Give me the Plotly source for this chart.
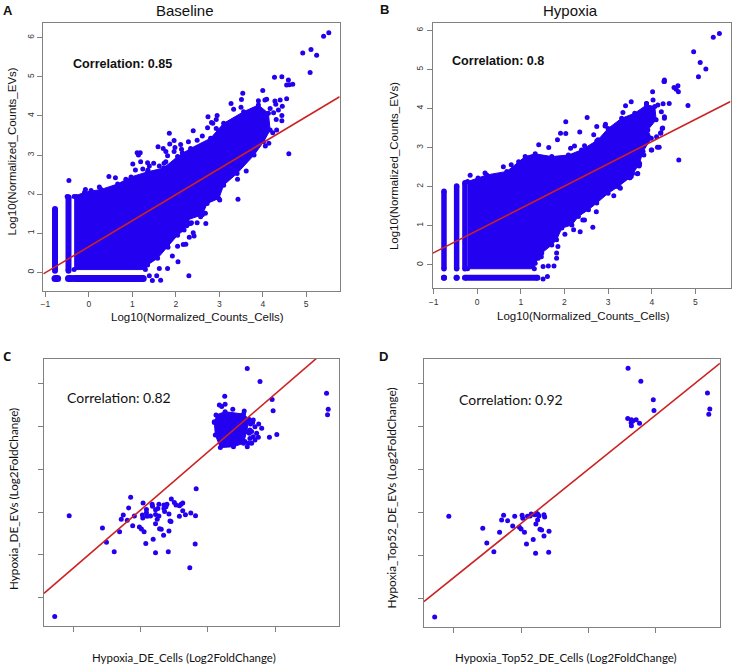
import plotly.graph_objects as go

W, H = 736, 665
DX = -2.5  # page sits a little to the right in the browser
BLUE = "#2400F0"
RED = "#CC2222"
GRAY = "#808080"

# panel A - Baseline
a_cloud_x = [-0.34, -0.10, 0.28, 0.66, 0.97, 1.35, 1.72, 2.04, 2.34, 2.80, 3.10, 3.56, 3.90, 4.13, 4.17, 4.02, 3.80, 3.41, 3.10, 2.99, 2.72, 2.61, 2.26, 2.19, 2.04, 1.81, 1.58, 1.35, 1.30, -0.34]
a_cloud_y = [1.94, 2.05, 2.12, 2.26, 2.44, 2.57, 2.67, 2.96, 3.17, 3.43, 3.81, 4.11, 4.28, 4.07, 3.64, 3.34, 3.00, 2.53, 2.23, 1.89, 1.76, 1.47, 1.34, 1.08, 0.95, 0.66, 0.36, 0.19, 0.07, 0.07]
a_x = [5.52, 5.40, 5.11, 4.92, 5.24, 5.09, 4.27, 4.44, 4.59, 4.55, 4.69, 4.61, 3.54, 4.00, 3.51, 3.27, 4.55, 4.45, 3.50, 4.09, 4.05, 4.28, 4.40, 4.44, 4.44, 4.32, 4.23, 4.14, 4.60, 3.43, 3.62, 3.42, 2.74, 2.95, 2.93, 2.82, 2.40, 1.85, 2.61, 2.49, 1.96, 1.86, 1.59, 1.71, 2.11, 1.11, 1.18, 1.14, 1.19, 1.01, 1.35, 1.49, 1.77, 1.81, 1.96, 1.07, 0.46, 0.61, -0.46, 0.24, 0.85, 1.81, 2.05, 1.92, 2.30, 2.31, 2.42, 2.40, 2.23, 2.04, 1.82, 2.68, 2.57, 2.69, 3.01, 2.30, 2.36, 1.62, 1.65, 1.46, 1.56, 1.39, -0.50, -0.29, -0.08, 0.05,
       3.33, 3.90, 4.30, 4.17, 4.36, 4.25, 4.31, 4.06, 2.85, 2.73, 2.93, 2.29, 1.98, 2.13, 2.15, 1.77, 1.73, 1.24, 1.39, 1.62, 1.36, 2.49, 2.34, 2.25, 2.17]
a_y = [6.13, 6.04, 5.70, 5.61, 5.55, 5.11, 4.99, 5.00, 4.92, 4.79, 4.81, 4.80, 4.58, 4.65, 4.42, 4.32, 4.44, 4.25, 4.22, 4.43, 4.41, 4.38, 4.41, 4.01, 3.88, 3.64, 3.57, 3.30, 3.03, 1.87, 2.59, 2.38, 3.98, 4.01, 3.91, 3.83, 3.62, 3.56, 3.49, 3.38, 3.37, 3.28, 3.21, 3.17, 3.27, 3.06, 3.06, 3.00, 2.83, 2.77, 2.80, 2.79, 3.09, 2.98, 3.09, 2.62, 2.45, 2.42, 2.35, 2.18, 2.38, 0.10, 0.27, 0.42, -0.09, 0.90, 0.93, 1.01, 0.72, 0.67, 0.64, 1.51, 1.42, 1.25, 1.85, 1.24, 1.27, 0.10, -0.20, -0.21, -0.09, -0.09, 1.94, 1.94, 2.12, 2.09,
       4.17, 4.39, 4.30, 4.19, 4.15, 4.08, 3.91, 3.23, 3.81, 3.70, 3.68, 3.34, 3.19, 3.15, 3.06, 2.83, 2.79, 2.64, 2.72, 2.72, 2.62, 1.27, 1.25, 1.19, 0.71]
a_strip_x = [-0.78, -0.47]
a_strip_top = [1.62, 1.92]
a_strip_bottom = [0.04, 0.04]
a_row_x = [-0.78, -0.47, -0.34]
a_row_end = [-0.72, -0.41, 1.25]
a_row_y = [-0.16, -0.16, -0.16]
a_line_x = [-1.05, 5.77]
a_line_y = [-0.04, 4.49]

# panel B - Hypoxia
b_cloud_x = [-0.22, 0.22, 0.68, 0.95, 1.10, 1.33, 1.71, 2.09, 2.39, 2.77, 3.00, 3.31, 3.61, 3.88, 4.07, 4.10, 3.91, 3.99, 3.80, 3.72, 3.53, 3.23, 3.00, 2.74, 2.55, 2.32, 2.17, 1.94, 1.82, 1.71, 1.48, 1.33, 1.31, -0.22]
b_cloud_y = [2.13, 2.30, 2.39, 2.64, 2.77, 2.84, 2.77, 2.81, 2.94, 3.20, 3.49, 3.75, 3.88, 4.09, 4.05, 3.71, 3.45, 3.24, 2.90, 2.60, 2.26, 2.00, 1.83, 1.58, 1.41, 1.24, 1.02, 0.94, 0.64, 0.51, 0.30, 0.04, -0.10, -0.10]
b_x = [5.55, 5.41, 4.96, 5.11, 5.24, 5.07, 4.29, 4.29, 4.51, 4.60, 4.56, 4.61, 4.02, 3.53, 3.40, 4.40, 4.83, 3.88, 2.52, 2.03, 2.74, 2.35, 1.91, 2.03, 1.84, 1.41, 1.64, 2.23, 2.46, 2.67, 2.93, 0.60, 0.78, 0.18, -0.16, 0.02, 4.29, 4.25, 4.21, 4.11, 4.13, 4.17, 4.00, 4.62, 3.72, 3.68, 3.56, 3.49, 3.28, 3.13, 2.73, 2.65, 2.36, 2.42, 2.46, 2.21, 2.01, 1.85, 1.82, 1.82, 1.76, 1.63, 1.51, 1.61, 1.51, 1.40, 1.47,
       3.34, 2.94, 3.88, 4.03, 4.14, 4.26, 4.22, 4.29, 4.24, 4.20, 3.99, 3.82, 3.71, 3.67, 3.50, 3.27, 2.14, 2.74, 4.28]
b_y = [5.92, 5.82, 5.45, 5.18, 5.01, 4.81, 4.73, 4.69, 4.54, 4.58, 4.49, 4.43, 4.43, 4.17, 4.07, 4.13, 4.08, 4.13, 3.77, 3.66, 3.54, 3.40, 3.37, 3.36, 3.20, 3.07, 3.00, 3.04, 3.05, 3.33, 3.55, 2.51, 2.56, 2.35, 2.29, 2.22, 3.79, 3.50, 3.38, 3.28, 3.01, 3.01, 2.94, 2.68, 2.56, 2.34, 2.34, 2.23, 1.96, 1.77, 1.36, 0.96, 0.85, 1.15, 1.15, 0.90, 0.78, 0.47, 0.30, 0.17, -0.03, -0.03, -0.04, -0.30, -0.36, 0.17, 0.21,
       3.90, 3.60, 4.13, 4.22, 4.09, 4.12, 3.92, 3.75, 3.49, 3.37, 2.94, 2.81, 2.53, 2.33, 2.23, 1.98, 2.98, 3.17, 4.69]
b_strip_x = [-0.76, -0.47, -0.28]
b_strip_top = [1.88, 2.02, 2.10]
b_strip_bottom = [-0.10, -0.10, -0.10]
b_row_x = [-0.76, -0.47, -0.28]
b_row_end = [-0.76, -0.47, 1.38]
b_row_y = [-0.33, -0.33, -0.33]
b_line_x = [-1.015, 5.805]
b_line_y = [0.30, 4.18]

# panel C - all DE genes
c_cloud_x = [0.24, 0.51, 1.06, 1.23, 1.15, 1.06, 0.76, 0.37, 0.22, 0.19]
c_cloud_y = [2.55, 2.70, 2.59, 2.34, 1.77, 1.22, 1.06, 1.02, 1.61, 2.23]
c_x = [1.17, 1.55, 0.50, 1.91, 3.53, 3.58, 3.56, 1.94, 0.34, 0.51, 0.41, 0.74, 1.08, 2.05, 1.83, 1.35, 1.51, 1.60, 1.40, 1.25, 1.45, 1.35, 1.50, 1.25, 1.40, 1.30, 1.17, 1.10, 1.23, 1.30, 1.20, 1.33, 1.27, 0.19,
       -0.35, -2.30, -1.09, -1.93, -1.66, -1.65, -1.46, -1.31, -1.22, -1.25, -1.00, -0.95, -0.85, -0.75, -0.80, -0.75, -2.36, -1.83, -1.56, -1.49, -1.31, -1.29, -1.16, -0.67, -0.51, -0.85, -0.37, -4.13, -2.52, -2.19, -1.95, -1.83, -1.94, -1.81, -1.71, -1.56, -1.46, -1.51, -2.58, -2.40, -1.13, -1.10, -1.56, -2.24, -2.04, -1.98, -1.90, -1.44, -1.39, -1.16, -3.14, -2.63, -1.32, -1.63, -3.02, -1.85, -0.38, -2.79, -1.56, -1.18, -0.54, -4.56]
c_y = [4.72, 4.11, 3.42, 3.27, 3.56, 2.81, 2.56, 2.75, 3.02, 3.05, 2.94, 2.81, 2.73, 1.63, 1.50, 2.31, 2.13, 1.92, 2.00, 1.84, 1.69, 1.53, 1.50, 1.45, 1.38, 1.22, 1.06, 1.30, 1.69, 1.77, 1.22, 2.19, 2.13, 2.20,
       -0.91, -1.31, -1.39, -1.58, -1.63, -1.73, -1.64, -1.67, -1.64, -1.75, -1.55, -1.67, -1.70, -1.58, -1.64, -1.94, -1.81, -1.88, -1.89, -1.84, -1.83, -1.98, -2.09, -2.13, -2.05, -2.20, -2.17, -2.17, -2.14, -2.19, -2.14, -2.03, -2.28, -2.20, -2.19, -2.11, -2.19, -2.34, -2.34, -2.38, -2.42, -2.44, -2.55, -2.64, -2.70, -2.80, -2.92, -2.78, -2.81, -2.89, -2.75, -2.92, -3.09, -3.28, -3.42, -3.47, -3.50, -3.86, -3.91, -3.86, -4.61, -6.89]
c_line_x = [-4.88, 3.90]
c_line_y = [-5.81, 6.11]

# panel D - top 52 genes
d_x = [1.18, 1.56, 1.93, 1.95, 3.54, 3.61, 3.58, 1.17, 1.28, 1.42, 1.32, 1.27, 1.52, 1.28, -1.70, -1.54, -1.32, -2.52, -2.19, -1.97, -1.95, -1.81, -1.73, -1.59, -1.50, -1.47, -1.30, -4.15, -2.58, -2.40, -1.51, -1.56, -2.25, -2.05, -2.00, -1.90, -1.44, -1.39, -1.17, -3.14, -2.64, -1.32, -1.64, -3.02, -1.84, -2.81, -1.57, -1.18, -4.57]
d_y = [4.70, 4.09, 3.24, 2.73, 3.55, 2.81, 2.56, 2.36, 2.31, 2.31, 2.25, 2.17, 2.14, 2.02, -2.08, -2.05, -2.12, -2.14, -2.19, -2.14, -2.28, -2.19, -2.17, -2.12, -2.09, -2.17, -2.22, -2.19, -2.36, -2.39, -2.36, -2.54, -2.64, -2.70, -2.78, -2.93, -2.79, -2.82, -2.88, -2.74, -2.93, -3.10, -3.27, -3.43, -3.47, -3.84, -3.91, -3.86, -6.87]
d_line_x = [-4.89, 3.91]
d_line_y = [-6.16, 4.93]

count_ticks = [-1, 0, 1, 2, 3, 4, 5]
count_y_ticks = [0, 1, 2, 3, 4, 5, 6]
fc_x_ticks = [-4, -2, 0, 2]
fc_y_ticks = [-6, -4, -2, 0, 2, 4]

panels = {
    "": dict(box=(42, 340, 22.7, 290.7), xr=[-1.05, 5.77], yr=[-0.47, 6.385], xt=count_ticks, yt=count_y_ticks, labels=True),
    "2": dict(box=(433.7, 733, 23.3, 288.3), xr=[-1.015, 5.805], yr=[-0.60, 6.18], xt=count_ticks, yt=count_y_ticks, labels=True),
    "3": dict(box=(42.7, 339.3, 359, 626), xr=[-4.88, 3.90], yr=[-7.34, 5.17], xt=fc_x_ticks, yt=fc_y_ticks, labels=False),
    "4": dict(box=(424.7, 722.3, 359, 627.3), xr=[-4.89, 3.91], yr=[-7.35, 5.13], xt=fc_x_ticks, yt=fc_y_ticks, labels=False),
}

fig = go.Figure()


def points(x, y, ax):
    fig.add_trace(go.Scatter(x=x, y=y, mode="markers", xaxis="x" + ax, yaxis="y" + ax,
                             marker=dict(color=BLUE, size=5, line=dict(width=0))))


def cloud(x, y, ax):
    fig.add_trace(go.Scatter(x=x, y=y, mode="lines+markers", fill="toself", fillcolor=BLUE, xaxis="x" + ax, yaxis="y" + ax,
                             line=dict(color=BLUE, width=1), marker=dict(color=BLUE, size=5, line=dict(width=0))))


def segment(x, y, ax, width):
    fig.add_trace(go.Scatter(x=x, y=y, mode="lines+markers", xaxis="x" + ax, yaxis="y" + ax,
                             line=dict(color=BLUE, width=width), marker=dict(color=BLUE, size=width, line=dict(width=0))))


def fit_line(x, y, ax):
    fig.add_trace(go.Scatter(x=x, y=y, mode="lines", xaxis="x" + ax, yaxis="y" + ax,
                             line=dict(color=RED, width=1.6)))


for sx, top, bottom in zip(a_strip_x, a_strip_top, a_strip_bottom):
    segment([sx, sx], [bottom, top], "", 6)
for x0, x1, ry in zip(a_row_x, a_row_end, a_row_y):
    segment([x0, x1], [ry, ry], "", 7)
cloud(a_cloud_x, a_cloud_y, "")
points(a_x, a_y, "")
fit_line(a_line_x, a_line_y, "")

for sx, top, bottom in zip(b_strip_x, b_strip_top, b_strip_bottom):
    segment([sx, sx], [bottom, top], "2", 5.5)
for x0, x1, ry in zip(b_row_x, b_row_end, b_row_y):
    segment([x0, x1], [ry, ry], "2", 6)
cloud(b_cloud_x, b_cloud_y, "2")
points(b_x, b_y, "2")
fit_line(b_line_x, b_line_y, "2")

cloud(c_cloud_x, c_cloud_y, "3")
points(c_x, c_y, "3")
fit_line(c_line_x, c_line_y, "3")

points(d_x, d_y, "4")
fit_line(d_line_x, d_line_y, "4")

layout = dict(
    width=W, height=H, showlegend=False,
    margin=dict(l=0, r=0, t=0, b=0),
    paper_bgcolor="white", plot_bgcolor="white",
    font=dict(family="Liberation Sans", color="#222222"),
)

for ax, p in panels.items():
    x0, x1, y0, y1 = p["box"]
    common = dict(showgrid=False, zeroline=False, showline=True, mirror=True, linecolor=GRAY, linewidth=1.2,
                  ticks="outside", ticklen=5, tickcolor=GRAY, tickwidth=1,
                  showticklabels=p["labels"], tickfont=dict(size=8.5, color="#333333"))
    layout["xaxis" + ax] = dict(domain=[(x0 + DX) / W, (x1 + DX) / W], range=p["xr"], anchor="y" + ax, tickvals=p["xt"], **common)
    layout["yaxis" + ax] = dict(domain=[1 - y1 / H, 1 - y0 / H], range=p["yr"], anchor="x" + ax, tickvals=p["yt"], tickangle=-90, **common)

fig.update_layout(**layout)


def label(px, py, text, size, family="Liberation Sans", bold=False, anchor="center", angle=0, color="#111111"):
    # left anchored annotations carry about 2px of padding
    shift = DX - 2 if anchor == "left" else DX
    fig.add_annotation(x=(px + shift) / W, y=1 - py / H, xref="paper", yref="paper", text="<b>%s</b>" % text if bold else text,
                       showarrow=False, xanchor=anchor, yanchor="middle", textangle=angle,
                       font=dict(family=family, size=size, color=color))


label(184, 10, "Baseline", 15)
label(572, 10, "Hypoxia", 15)
label(1, 10, "A", 13, bold=True, anchor="left")
label(380.5, 9, "B", 13, bold=True, anchor="left")
label(1, 356, "C", 13, family="Open Sans", bold=True, anchor="left")
label(380, 356, "D", 13, bold=True, anchor="left")

label(71.7, 64, "Correlation: 0.85", 12.6, bold=True, anchor="left")
label(452.7, 61, "Correlation: 0.8", 12.6, bold=True, anchor="left")
label(65.7, 397, "Correlation: 0.82", 14, family="Lato", anchor="left")
label(459.7, 399, "Correlation: 0.92", 14, family="Lato", anchor="left")

label(197, 317, "Log10(Normalized_Counts_Cells)", 11.5)
label(585, 316, "Log10(Normalized_Counts_Cells)", 11.5)
label(11, 151, "Log10(Normalized_Counts_EVs)", 11.5, angle=-90)
label(394.7, 166, "Log10(Normalized_Counts_EVs)", 11.5, angle=-90)

label(183.7, 657, "Hypoxia_DE_Cells (Log2FoldChange)", 11.45, family="Lato")
label(567.7, 657, "Hypoxia_Top52_DE_Cells (Log2FoldChange)", 11.5, family="Lato")
label(11, 498.5, "Hypoxia_DE_EVs (Log2FoldChange)", 11.7, family="Lato", angle=-90)
label(392, 498, "Hypoxia_Top52_DE_EVs (Log2FoldChange)", 11.75, family="Lato", angle=-90)

fig.write_html("out.html", config={"displayModeBar": False}, post_script="document.body.style.margin = '0';")
